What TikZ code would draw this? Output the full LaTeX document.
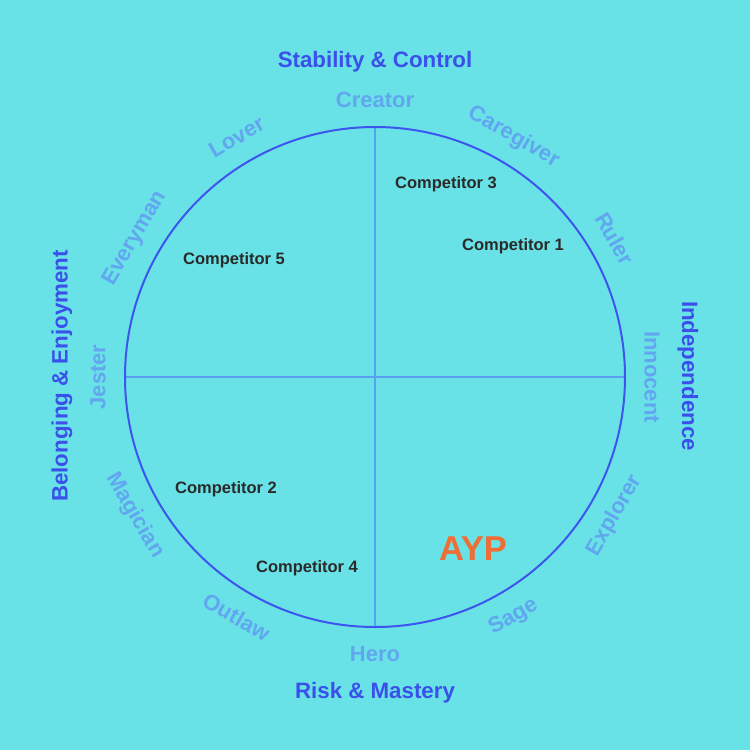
\documentclass[tikz,border=0pt]{standalone}
\usepackage{fontspec}
\setmainfont{Liberation Sans}
\usetikzlibrary{calc}
\definecolor{bgc}{HTML}{68E2E6}
\definecolor{ringc}{HTML}{3D55EE}
\definecolor{axisc}{HTML}{5AA0F0}
\definecolor{archc}{HTML}{62A6F0}
\definecolor{groupc}{HTML}{3B50EA}
\definecolor{compc}{HTML}{2A2A2A}
\definecolor{ayp}{HTML}{EE6E36}
\tikzset{
  arch/.style={font=\fontsize{22}{22}\selectfont\bfseries, text=archc, inner sep=0pt},
  grp/.style={font=\fontsize{22.3}{22}\selectfont\bfseries, text=groupc, inner sep=0pt},
  comp/.style={font=\fontsize{16.5}{16}\selectfont\bfseries, text=compc, inner sep=0pt},
}
\begin{document}
\begin{tikzpicture}[x=1pt,y=-1pt]
\fill[bgc] (0,0) rectangle (750,750);
\useasboundingbox (0,0) rectangle (750,750);
\coordinate (c) at (375,377);
\coordinate (t) at (375,127);
\coordinate (b) at (375,627);
\coordinate (l) at (125,377);
\coordinate (r) at (625,377);
\draw[axisc, line width=1.5pt] (t) -- (b);
\draw[axisc, line width=1.5pt] (l) -- (r);
\draw[ringc, line width=2pt] (c) circle[radius=250];
\foreach \a/\txt/\rot in {90/Creator/0, 60/Caregiver/-30, 30/Ruler/-60, 0/Innocent/-90, 180/Jester/90, 150/Everyman/60, 120/Lover/30,
  -30/Explorer/60, -60/Sage/30, -90/Hero/0, -120/Outlaw/-30, -150/Magician/-60}
  \node[arch, rotate=\rot] (n\txt) at ($(c)+({277*cos(\a)},{-277*sin(\a)})$) {\txt};
\node[grp] (gtop) at (375,62) {Stability \& Control};
\node[grp] (gbot) at (375,693) {Risk \& Mastery};
\node[grp, rotate=90] (gleft) at (62,376) {Belonging \& Enjoyment};
\node[grp, rotate=-90] (gright) at (688,376) {Independence};
\node[comp] (c3) at (446,184) {Competitor 3};
\node[comp] (c1) at (513,246) {Competitor 1};
\node[comp] (c5) at (234,260) {Competitor 5};
\node[comp] (c2) at (226,489) {Competitor 2};
\node[comp] (c4) at (307,568) {Competitor 4};
\node[font=\fontsize{34.5}{34}\selectfont\bfseries, text=ayp, inner sep=0pt] (ayp) at (473,549) {AYP};
\end{tikzpicture}
\end{document}
